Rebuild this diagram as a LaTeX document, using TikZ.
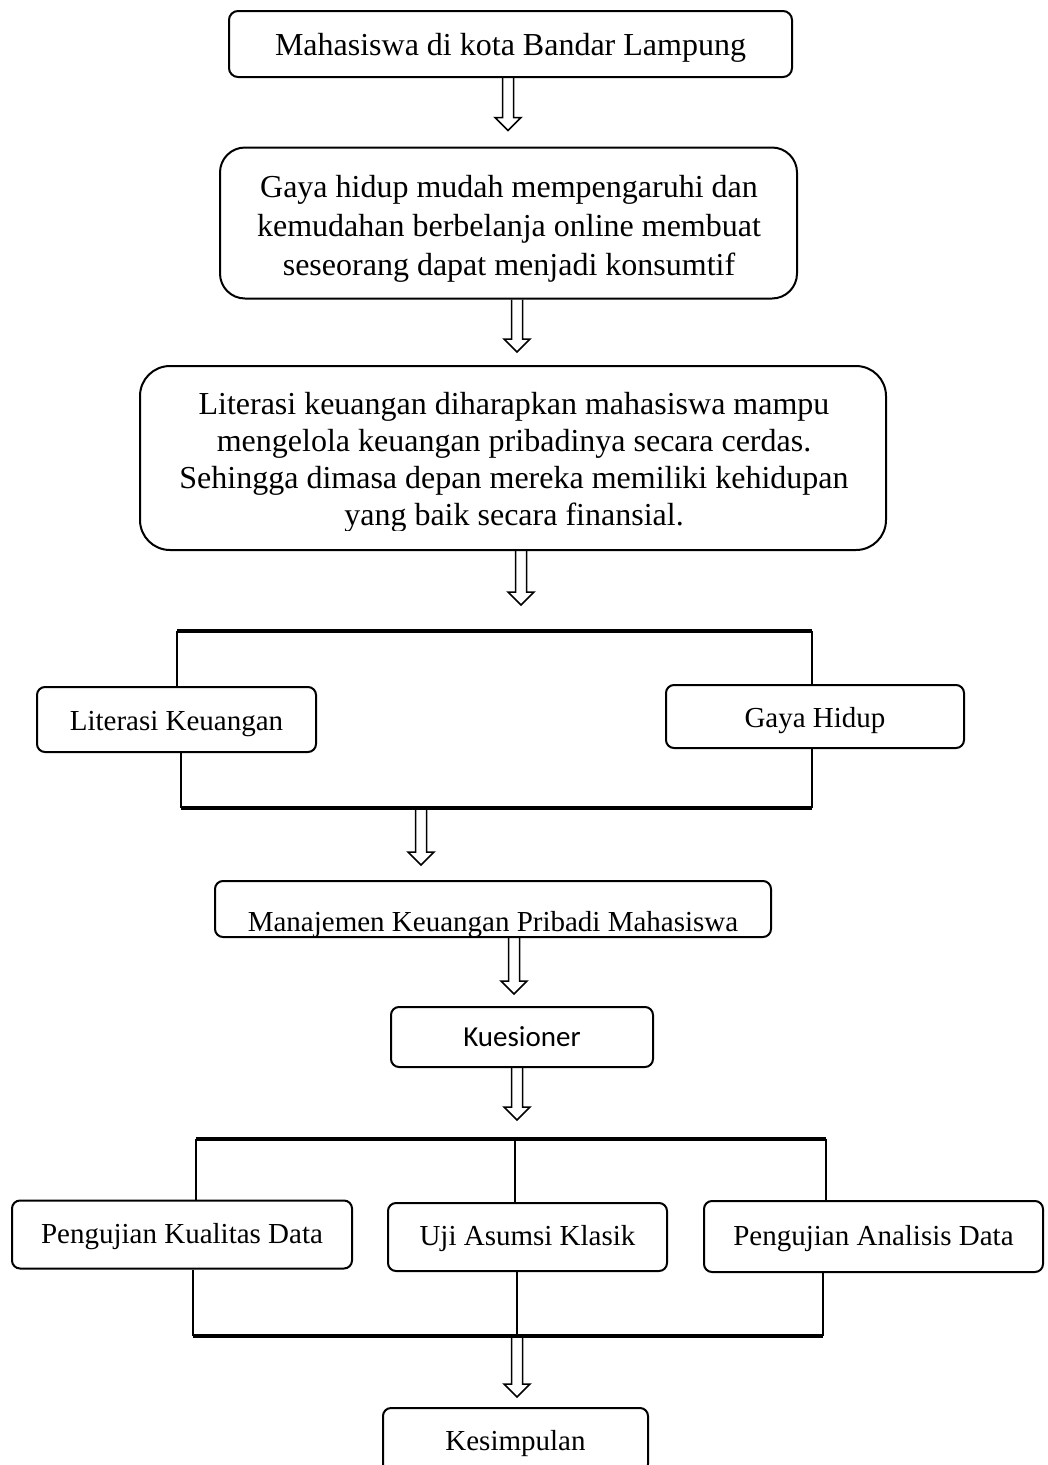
\documentclass[tikz,border=0pt]{standalone}
\usepackage{fontspec}
\setmainfont{Liberation Serif}
\newfontfamily\calfont{Carlito}
\usetikzlibrary{calc}
\newcommand\harrow[4]{%
  \draw[harrow] let \p1=(#1), \p2=(#2) in
    ({\x1+(#3pt)-5.5pt},\y1) -- ({\x1+(#3pt)-5.5pt},{\y2+(#4pt)+13pt})
    -- ({\x1+(#3pt)-13pt},{\y2+(#4pt)+13pt}) -- ({\x1+(#3pt)},{\y2+(#4pt)})
    -- ({\x1+(#3pt)+13pt},{\y2+(#4pt)+13pt}) -- ({\x1+(#3pt)+5.5pt},{\y2+(#4pt)+13pt})
    -- ({\x1+(#3pt)+5.5pt},\y1);}
\begin{document}
\begin{tikzpicture}[x=1pt,y=-1pt,
  box/.style={draw,line width=2pt,rounded corners=8pt,inner sep=0pt,font=\fontsize{29}{34}\selectfont},
  bigbox/.style={draw,line width=2pt,inner sep=0pt},
  bigtext/.style={anchor=base,inner sep=0pt},
  low/.style={text height=#1,text depth=0pt},
  thickbar/.style={line width=4pt},
  thinbar/.style={line width=1.2pt},
  harrow/.style={line width=1.5pt,line join=miter}]
\useasboundingbox (0,0) rectangle (1048,1465);

% main boxes
\node[bigbox,rounded corners=9pt,minimum width=563,minimum height=66,
      font=\fontsize{32}{37}\selectfont,low=22pt] (b1) at (510.5,44)
  {Mahasiswa di kota Bandar Lampung};

\node[bigbox,rounded corners=25pt,minimum width=577,minimum height=151] (b2) at (508.5,223) {};
\node[bigtext,font=\fontsize{32}{39}\selectfont] (b2t) at (509,197)
  {\begin{tabular}[t]{@{}c@{}}Gaya hidup mudah mempengaruhi dan\\kemudahan berbelanja online membuat\\seseorang dapat menjadi konsumtif\end{tabular}};

\node[bigbox,rounded corners=30pt,minimum width=746,minimum height=184] (b3) at (513,458) {};
\begin{scope}
  \clip (140,366) rectangle (886,530.5);
  \node[bigtext,font=\fontsize{32}{37}\selectfont] (b3t) at (514,414)
    {\begin{tabular}[t]{@{}c@{}}Literasi keuangan diharapkan mahasiswa mampu\\mengelola keuangan pribadinya secara cerdas.\\Sehingga dimasa depan mereka memiliki kehidupan\\yang baik secara finansial.\end{tabular}};
\end{scope}

% first branch boxes
\node[box,minimum width=279,minimum height=65,low=21pt] (lk) at (176.5,719.5) {Literasi Keuangan};
\node[box,minimum width=298,minimum height=63,low=22pt] (gh) at (815,716.5) {Gaya Hidup};

% manajemen box with clipped text
\node[box,minimum width=556,minimum height=56] (mk) at (493,909) {};
\begin{scope}
  \clip (mk.south west) rectangle (mk.north east);
  \node[anchor=base,inner sep=0pt,font=\fontsize{29}{34}\selectfont] (mkt) at (493,931)
    {Manajemen Keuangan Pribadi Mahasiswa};
\end{scope}

\node[box,minimum width=262,minimum height=60,font=\calfont\fontsize{29}{34}\selectfont] (kq) at (522,1037) {Kuesioner};

% second branch boxes
\node[box,minimum width=340,minimum height=68,low=17pt] (pk) at (182,1234.5) {Pengujian Kualitas Data};
\node[box,minimum width=279,minimum height=68,low=16pt] (ua) at (527.5,1237) {Uji Asumsi Klasik};
\node[box,minimum width=339,minimum height=71,low=17pt] (pa) at (873.5,1236.5) {Pengujian Analisis Data};

\node[box,minimum width=265,minimum height=64,low=20pt] (ks) at (515.5,1440) {Kesimpulan};

% bracket 1
\coordinate (t1L) at (177,631);
\coordinate (t1R) at (812,631);
\draw[thickbar] (t1L) -- (t1R);
\draw[thinbar] (t1L) -- (t1L |- lk.north);
\draw[thinbar] (t1R) -- (t1R |- gh.north);
\coordinate (u1L) at (181,808);
\coordinate (u1R) at (812,808);
\draw[thinbar] (u1L |- lk.south) -- (u1L);
\draw[thinbar] (u1R |- gh.south) -- (u1R);
\draw[thickbar] (u1L) -- (u1R);

% bracket 2
\coordinate (t2L) at (196,1139);
\coordinate (t2M) at (515,1139);
\coordinate (t2R) at (826,1139);
\draw[thickbar] (t2L) -- (t2R);
\draw[thinbar] (t2L) -- (t2L |- pk.north);
\draw[thinbar] (t2M) -- (t2M |- ua.north);
\draw[thinbar] (t2R) -- (t2R |- pa.north);
\coordinate (u2L) at (193,1336);
\coordinate (u2M) at (517,1336);
\coordinate (u2R) at (823,1336);
\draw[thinbar] (u2L |- pk.south) -- (u2L);
\draw[thinbar] (u2M |- ua.south) -- (u2M);
\draw[thinbar] (u2R |- pa.south) -- (u2R);
\draw[thickbar] (u2L) -- (u2R);

% hollow arrows
\coordinate (a4) at (421,808);
\coordinate (a7) at (517,1336);
\harrow{b1.south}{b2.north}{-2.5}{16}
\harrow{b2.south}{b3.north}{8.5}{13}
\harrow{b3.south}{t1L}{8}{26}
\harrow{a4}{mk.north}{0}{15}
\harrow{mk.south}{kq.north}{21}{12}
\harrow{kq.south}{t2M}{-5}{19}
\harrow{a7}{ks.north}{0}{10}
\end{tikzpicture}
\end{document}
